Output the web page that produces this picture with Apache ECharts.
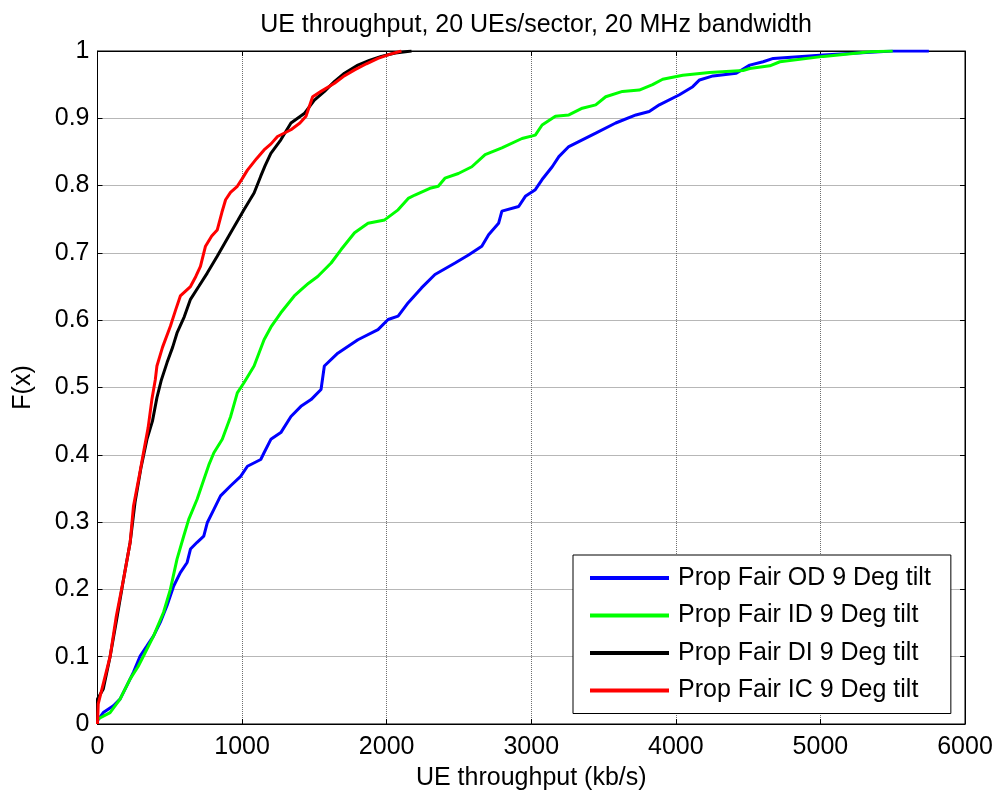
<!DOCTYPE html>
<html>
<head>
<meta charset="utf-8">
<script src="https://cdn.jsdelivr.net/npm/echarts@6/dist/echarts.min.js"></script>
<style>
html,body{margin:0;padding:0;background:#fff;}
#chart{width:1000px;height:796px;}
</style>
</head>
<body>
<div id="chart"></div>
<script>
var titleText = 'UE throughput, 20 UEs/sector, 20 MHz bandwidth';
var xName = 'UE throughput (kb/s)';
var yName = 'F(x)';
var seriesNames = ['Prop Fair OD 9 Deg tilt', 'Prop Fair ID 9 Deg tilt', 'Prop Fair DI 9 Deg tilt', 'Prop Fair IC 9 Deg tilt'];
var seriesColors = ['#0000ff', '#00ff00', '#000000', '#ff0000'];

var odData = [[0,0.005],[40,0.017],[110,0.027],[156,0.037],[203,0.057],[249,0.077],[295,0.101],[342,0.116],[388,0.131],[434,0.151],[481,0.176],[527,0.205],[573,0.225],[620,0.240],[643,0.260],[689,0.270],[735,0.279],[759,0.299],[805,0.319],[851,0.339],[921,0.354],[990,0.368],[1037,0.383],[1129,0.393],[1152,0.403],[1199,0.423],[1268,0.433],[1338,0.457],[1407,0.472],[1477,0.482],[1546,0.497],[1569,0.532],[1662,0.551],[1801,0.571],[1940,0.586],[2010,0.601],[2079,0.606],[2149,0.626],[2241,0.648],[2334,0.668],[2473,0.685],[2566,0.697],[2658,0.710],[2705,0.727],[2774,0.744],[2797,0.762],[2913,0.769],[2959,0.784],[3028,0.794],[3075,0.809],[3145,0.828],[3191,0.843],[3260,0.858],[3353,0.868],[3446,0.878],[3584,0.893],[3724,0.905],[3816,0.910],[3886,0.920],[4025,0.935],[4117,0.947],[4164,0.957],[4257,0.963],[4418,0.967],[4511,0.979],[4604,0.984],[4674,0.989],[5021,0.994],[5345,0.998],[5500,1.0],[5750,1.0]];

var idData = [[0,0.007],[87,0.017],[156,0.037],[226,0.067],[280,0.085],[318,0.101],[388,0.131],[457,0.166],[504,0.20],[550,0.245],[596,0.279],[631,0.304],[689,0.334],[735,0.363],[770,0.385],[805,0.403],[863,0.423],[921,0.457],[967,0.492],[1013,0.507],[1083,0.532],[1152,0.571],[1200,0.59],[1268,0.611],[1361,0.636],[1407,0.645],[1460,0.655],[1523,0.665],[1616,0.685],[1685,0.705],[1778,0.730],[1871,0.744],[1986,0.749],[2079,0.764],[2149,0.781],[2195,0.786],[2299,0.796],[2357,0.799],[2403,0.811],[2496,0.818],[2589,0.828],[2681,0.846],[2797,0.856],[2936,0.870],[3028,0.875],[3075,0.890],[3167,0.903],[3260,0.905],[3353,0.915],[3446,0.920],[3515,0.932],[3631,0.940],[3747,0.942],[3839,0.950],[3909,0.958],[4048,0.964],[4233,0.968],[4465,0.971],[4511,0.974],[4650,0.978],[4720,0.984],[5021,0.992],[5345,0.999],[5500,1.0]];

var diData = [[0,0],[0,0.037],[40,0.052],[87,0.10],[133,0.156],[180,0.215],[226,0.27],[260,0.33],[300,0.38],[342,0.423],[380,0.45],[411,0.485],[440,0.51],[481,0.537],[520,0.56],[550,0.581],[600,0.605],[643,0.631],[700,0.65],[759,0.670],[828,0.695],[921,0.730],[970,0.748],[1013,0.764],[1083,0.789],[1129,0.814],[1160,0.83],[1199,0.848],[1268,0.868],[1338,0.893],[1430,0.907],[1500,0.927],[1570,0.94],[1640,0.955],[1708,0.967],[1801,0.979],[1880,0.986],[1963,0.992],[2060,0.997],[2172,1.0]];

var icData = [[0,0],[5,0.03],[87,0.10],[130,0.16],[180,0.215],[226,0.27],[249,0.324],[290,0.37],[318,0.403],[350,0.44],[376,0.482],[400,0.512],[411,0.532],[450,0.56],[504,0.591],[540,0.615],[573,0.636],[643,0.650],[680,0.665],[712,0.680],[747,0.710],[790,0.725],[828,0.734],[860,0.76],[886,0.779],[920,0.79],[967,0.799],[1000,0.81],[1037,0.823],[1100,0.84],[1152,0.853],[1200,0.862],[1245,0.873],[1338,0.883],[1400,0.893],[1442,0.903],[1488,0.932],[1546,0.940],[1639,0.952],[1700,0.962],[1778,0.972],[1860,0.981],[1940,0.989],[2020,0.995],[2102,1.0]];

var xMin = 0, xMax = 6000, xStep = 1000;
var yMin = 0, yMax = 1, yStep = 0.1;

var FONT = '"Liberation Sans", Arial, sans-serif';
var allData = [odData, idData, diData, icData];

var chart = echarts.init(document.getElementById('chart'), null, {renderer: 'canvas'});

function mkSeries(i) {
  return {
    name: seriesNames[i],
    type: 'line',
    data: allData[i],
    showSymbol: false,
    symbol: 'none',
    smooth: false,
    animation: false,
    lineStyle: {color: seriesColors[i], width: 3},
    itemStyle: {color: seriesColors[i]},
    z: 3 + i
  };
}

var option = {
  backgroundColor: '#ffffff',
  animation: false,
  title: {
    text: titleText,
    left: 531,
    textAlign: 'center',
    top: 8,
    textStyle: {fontFamily: FONT, fontSize: 25, fontWeight: 'normal', color: '#000'}
  },
  legend: {
    orient: 'vertical',
    left: 573,
    top: 555,
    data: seriesNames,
    icon: 'rect',
    itemWidth: 79,
    itemHeight: 4,
    itemGap: 9.5,
    padding: [9, 20, 9, 17],
    backgroundColor: '#ffffff',
    borderColor: '#000000',
    borderWidth: 1,
    borderRadius: 0,
    textStyle: {fontFamily: FONT, fontSize: 25, color: '#000', lineHeight: 28, padding: [0, 0, 0, 4]}
  },
  grid: {
    left: 97.5, right: 35, top: 51, bottom: 71,
    show: true, borderColor: '#000', borderWidth: 1, backgroundColor: '#fff'
  },
  xAxis: [{
    type: 'value', min: xMin, max: xMax, interval: xStep,
    name: xName, nameLocation: 'middle', nameGap: 42,
    nameTextStyle: {fontFamily: FONT, fontSize: 25, color: '#000'},
    axisLine: {show: true, onZero: false, lineStyle: {color: '#000', width: 1}},
    axisTick: {show: true, inside: true, length: 5, lineStyle: {color: '#000'}},
    axisLabel: {fontFamily: FONT, fontSize: 25, color: '#000', margin: 11, formatter: function (v) { return String(v); }},
    splitLine: {show: true, lineStyle: {color: '#6f6f6f', type: 'dotted', width: 1}}
  }, {
    type: 'value', min: xMin, max: xMax, interval: xStep, position: 'top',
    axisLine: {show: true, onZero: false, lineStyle: {color: '#000', width: 1}},
    axisTick: {show: true, inside: true, length: 5, lineStyle: {color: '#000'}},
    axisLabel: {show: false}, splitLine: {show: false}
  }],
  yAxis: [{
    type: 'value', min: yMin, max: yMax, interval: yStep,
    name: yName, nameLocation: 'middle', nameGap: 62, nameRotate: 90,
    nameTextStyle: {fontFamily: FONT, fontSize: 25, color: '#000'},
    axisLine: {show: true, onZero: false, lineStyle: {color: '#000', width: 1}},
    axisTick: {show: true, inside: true, length: 5, lineStyle: {color: '#000'}},
    axisLabel: {fontFamily: FONT, fontSize: 25, color: '#000', margin: 8, formatter: function (v) { return String(Math.round(v * 10) / 10); }},
    splitLine: {show: true, lineStyle: {color: '#6f6f6f', type: 'dotted', width: 1}}
  }, {
    type: 'value', min: yMin, max: yMax, interval: yStep, position: 'right',
    axisLine: {show: true, onZero: false, lineStyle: {color: '#000', width: 1}},
    axisTick: {show: true, inside: true, length: 5, lineStyle: {color: '#000'}},
    axisLabel: {show: false}, splitLine: {show: false}
  }],
  series: [mkSeries(0), mkSeries(1), mkSeries(2), mkSeries(3)]
};
chart.setOption(option);
</script>
</body>
</html>
